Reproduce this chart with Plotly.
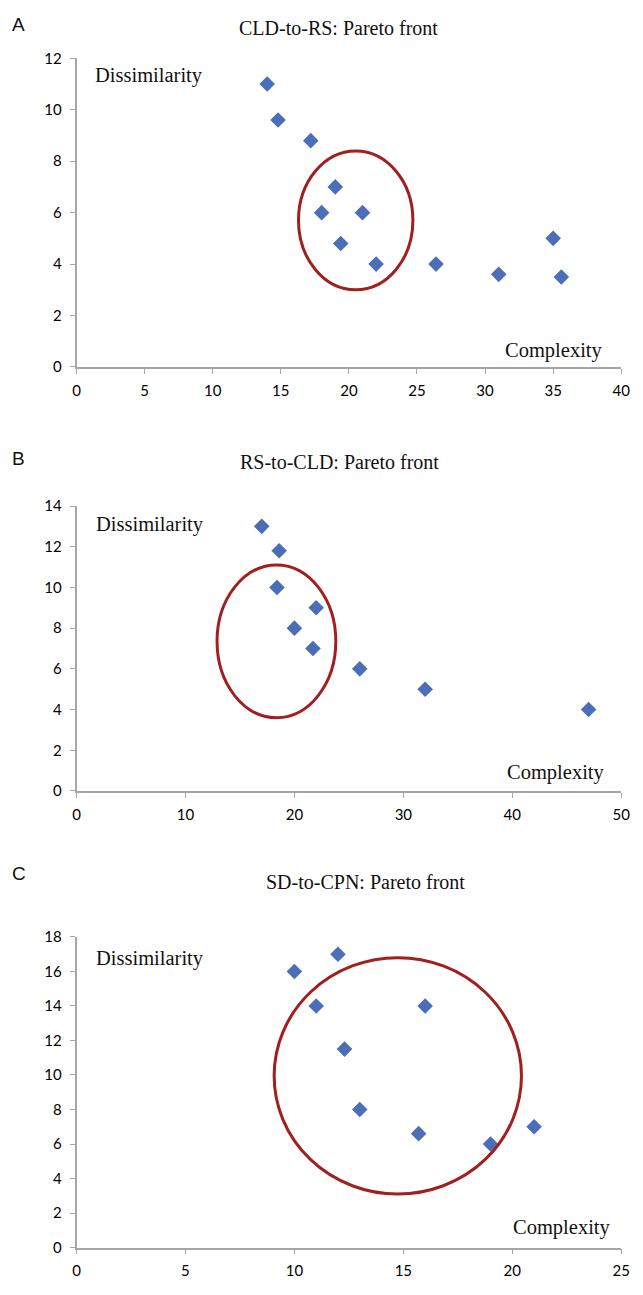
import plotly.graph_objects as go

# Panel A: CLD-to-RS
a_complexity = [14, 14.8, 17.2, 19, 18, 21, 19.4, 22, 26.4, 31, 35, 35.6]
a_dissim = [11, 9.6, 8.8, 7, 6, 6, 4.8, 4, 4, 3.6, 5, 3.5]
# Panel B: RS-to-CLD
b_complexity = [17, 18.6, 18.4, 22, 20, 21.7, 26, 32, 47]
b_dissim = [13, 11.8, 10, 9, 8, 7, 6, 5, 4]
# Panel C: SD-to-CPN
c_complexity = [10, 12, 11, 16, 12.3, 13, 15.7, 19, 21]
c_dissim = [16, 17, 14, 14, 11.5, 8, 6.6, 6, 7]

titles = ["CLD-to-RS: Pareto front", "RS-to-CLD: Pareto front", "SD-to-CPN: Pareto front"]
letters = ["A", "B", "C"]
x_ranges = [[0, 40], [0, 50], [0, 25]]
x_dticks = [5, 10, 5]
y_ranges = [[0, 12], [0, 14], [0, 18]]
ellipses = [[16.3, 3.0, 24.7, 8.4], [12.9, 3.6, 23.8, 11.1], [9.07, 3.1, 20.42, 16.8]]
dissim_pos = [[1.19, 11.32], [1.62, 13.08], [0.78, 16.74]]
complex_pos = [[38.8, 0.65], [48.7, 0.92], [24.6, 1.14]]

H = 1295
W = 643
x_dom = [74 / W, 630 / W]
y_px = [(49, 362), (503, 792), (940, 1255)]
title_px = [18, 458, 884]
title_cx = [341, 342, 369]
letter_px = [15, 455, 876]

fig = go.Figure()
data = [(a_complexity, a_dissim), (b_complexity, b_dissim), (c_complexity, c_dissim)]
axis_color = "#a6a6a6"
tick_font = dict(family="Lato, Carlito, sans-serif", size=15, color="#000000")
serif = "Liberation Serif, Times New Roman, serif"

for i, (xs, ys) in enumerate(data):
    n = "" if i == 0 else str(i + 1)
    xa = "x" + n
    ya = "y" + n
    fig.add_trace(go.Scatter(
        x=xs, y=ys, mode="markers", xaxis=xa, yaxis=ya,
        marker=dict(symbol="diamond", size=12, color="#4a6fb8"),
        showlegend=False, hoverinfo="x+y"))
    top, bot = y_px[i]
    fig.update_layout({
        "xaxis" + n: dict(domain=x_dom, range=x_ranges[i], dtick=x_dticks[i], tick0=0,
                          showgrid=False, zeroline=False, showline=True, linecolor=axis_color,
                          linewidth=1.5, ticks="outside", ticklen=5, tickcolor=axis_color,
                          tickfont=tick_font, ticklabelstandoff=4, anchor=ya, fixedrange=True),
        "yaxis" + n: dict(domain=[1 - bot / H, 1 - top / H], range=y_ranges[i], dtick=2, tick0=0,
                          showgrid=False, zeroline=False, showline=True, linecolor=axis_color,
                          linewidth=1.5, ticks="outside", ticklen=5, tickcolor=axis_color,
                          tickfont=tick_font, ticklabelstandoff=5, anchor=xa, fixedrange=True),
    })
    x0, y0, x1, y1 = ellipses[i]
    fig.add_shape(type="circle", xref=xa, yref=ya, x0=x0, y0=y0, x1=x1, y1=y1,
                  line=dict(color="#a01f1f", width=3))
    fig.add_annotation(x=dissim_pos[i][0], y=dissim_pos[i][1], xref=xa, yref=ya,
                       text="Dissimilarity", showarrow=False, xanchor="left", yanchor="middle",
                       font=dict(family=serif, size=20.5, color="#111111"))
    fig.add_annotation(x=complex_pos[i][0], y=complex_pos[i][1], xref=xa, yref=ya,
                       text="Complexity", showarrow=False, xanchor="right", yanchor="middle",
                       font=dict(family=serif, size=20.5, color="#111111"))
    fig.add_annotation(x=title_cx[i] / W, y=1 - title_px[i] / H, xref="paper", yref="paper",
                       text=titles[i], showarrow=False, xanchor="center", yanchor="middle",
                       font=dict(family=serif, size=20, color="#111111"))
    fig.add_annotation(x=6 / W, y=1 - letter_px[i] / H, xref="paper", yref="paper",
                       text=letters[i], showarrow=False, xanchor="left", yanchor="middle",
                       font=dict(family="Liberation Sans, Arial, sans-serif", size=19, color="#111111"))

fig.update_layout(width=W, height=H, margin=dict(l=0, r=0, t=0, b=0),
                  paper_bgcolor="white", plot_bgcolor="white")
fig.write_html("out.html")
